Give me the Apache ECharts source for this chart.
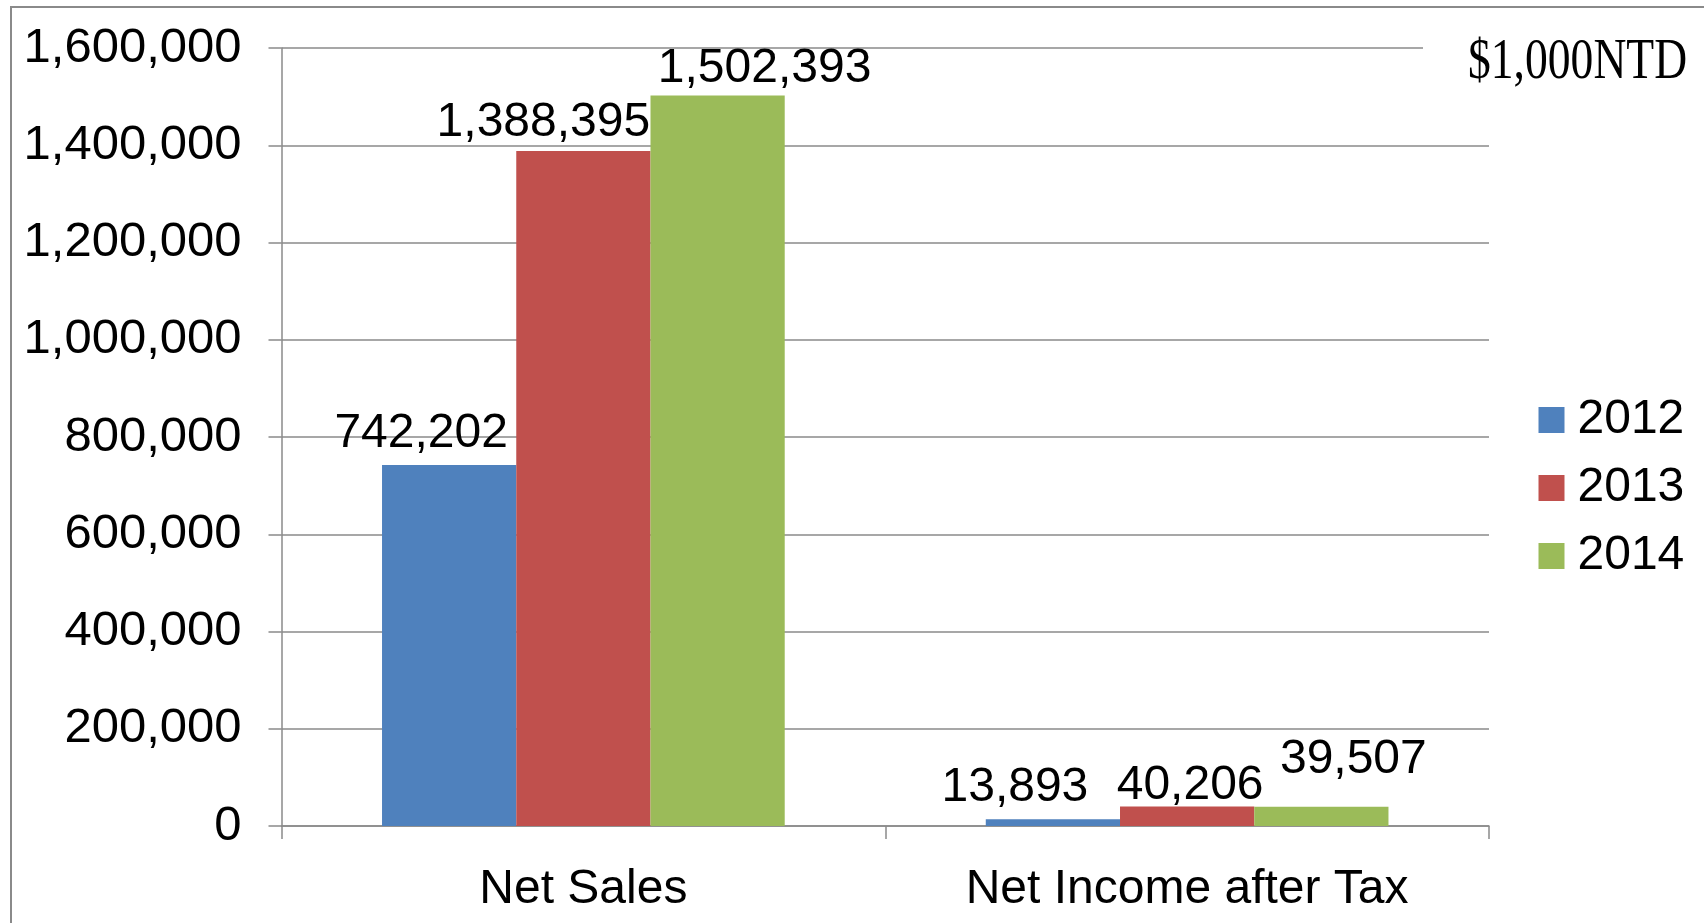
<!DOCTYPE html>
<html>
<head>
<meta charset="utf-8">
<script src="https://cdn.jsdelivr.net/npm/echarts@6/dist/echarts.min.js"></script>
<style>
html,body{margin:0;padding:0;background:#fff;}
#chart{width:1704px;height:923px;}
</style>
</head>
<body>
<div id="chart"></div>
<script>
// ---- data ----
const categories = ['Net Sales', 'Net Income after Tax'];
const years = ['2012', '2013', '2014'];
const v2012 = [742202, 13893];
const v2013 = [1388395, 40206];
const v2014 = [1502393, 39507];
const unitText = '$1,000NTD';

// ---- styles ----
const colors = ['#4F81BD', '#C0504D', '#9BBB59'];
const labelOffsets = [
  [[-28, -3], [-38, -3]],
  [[-40, 0], [3, 7]],
  [[47, 1], [32, -19]]
];
const sans = '"Liberation Sans", Arial, sans-serif';
const gray = '#8a8a8a';

const seriesValues = [v2012, v2013, v2014];
const fmt = v => v.toLocaleString('en-US');

const series = years.map((y, i) => ({
  name: y,
  type: 'bar',
  barGap: '0%',
  barCategoryGap: '33.3%',
  itemStyle: { color: colors[i] },
  label: {
    show: true,
    position: 'top',
    distance: 4,
    fontFamily: sans,
    fontSize: 48,
    color: '#000',
    formatter: p => fmt(p.value)
  },
  data: seriesValues[i].map((v, j) => ({ value: v, label: { offset: labelOffsets[i][j] } }))
}));

const chart = echarts.init(document.getElementById('chart'), null, { renderer: 'canvas' });
chart.setOption({
  animation: false,
  backgroundColor: '#fff',
  grid: { left: 281.5, right: 215, top: 48, bottom: 97, containLabel: false },
  legend: {
    orient: 'vertical',
    left: 1533.5,
    top: 391,
    icon: 'rect',
    itemWidth: 26,
    itemHeight: 26,
    itemGap: 20,
    data: years,
    textStyle: { fontFamily: sans, fontSize: 48, color: '#000', padding: [0, 0, 0, 8] }
  },
  xAxis: {
    type: 'category',
    data: categories,
    axisLine: { show: true, lineStyle: { color: gray, width: 1.5 } },
    axisTick: { show: true, length: 13, lineStyle: { color: gray, width: 1.5 } },
    axisLabel: { fontFamily: sans, fontSize: 48, color: '#000', margin: 40 }
  },
  yAxis: {
    type: 'value',
    min: 0,
    max: 1600000,
    interval: 200000,
    axisLine: { show: true, lineStyle: { color: gray, width: 1.5 } },
    axisTick: { show: true, length: 13, lineStyle: { color: gray, width: 1.5 } },
    splitLine: { show: true, lineStyle: { color: gray, width: 1.5 } },
    axisLabel: { fontFamily: sans, fontSize: 49, color: '#000', margin: 40, padding: [12, 0, 0, 0], formatter: v => fmt(v) }
  },
  graphic: [
    {
      type: 'rect',
      shape: { x: 11, y: 7, width: 1800, height: 1000 },
      style: { fill: 'none', stroke: gray, lineWidth: 2 },
      z: 100
    },
    {
      type: 'rect',
      shape: { x: 1423, y: 40, width: 70, height: 16 },
      style: { fill: '#fff' },
      z: 100
    },
    {
      type: 'text',
      x: 1468,
      y: 63,
      scaleX: 0.8,
      style: { text: unitText, font: '57px "Liberation Serif", serif', fill: '#000', verticalAlign: 'middle', align: 'left' },
      z: 101
    }
  ],
  series: series
});
</script>
</body>
</html>
